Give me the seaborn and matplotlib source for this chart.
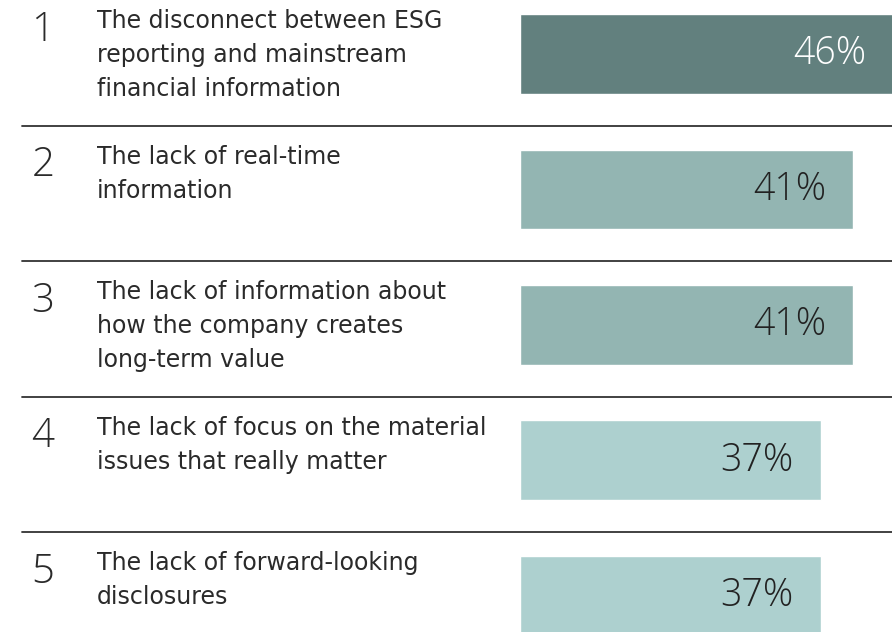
import numpy as np
import pandas as pd
import matplotlib.pyplot as plt
import matplotlib.transforms as mtransforms
import seaborn as sns

ranks = ["1", "2", "3", "4", "5"]
labels = [
    "The disconnect between ESG\nreporting and mainstream\nfinancial information",
    "The lack of real-time\ninformation",
    "The lack of information about\nhow the company creates\nlong-term value",
    "The lack of focus on the material\nissues that really matter",
    "The lack of forward-looking\ndisclosures",
]
values = [46, 41, 41, 37, 37]
bar_colors = ["#62807e", "#93b5b2", "#93b5b2", "#add0cf", "#add0cf"]
value_colors = ["white", "#222222", "#222222", "#222222", "#222222"]

df = pd.DataFrame({"rank": ranks, "label": labels, "value": values})

sns.set_theme(style="white")
plt.rcParams["font.family"] = ["Open Sans", "DejaVu Sans"]

fig = plt.figure(figsize=(8.92, 6.32), dpi=100)
# bars occupy the right part of the figure, starting at x=520px
ax = fig.add_axes([520 / 892, 0, 372 / 892, 1])

sns.barplot(data=df, x="value", y="rank", hue="rank", palette=bar_colors,
            orient="h", width=0.59, legend=False, ax=ax, saturation=1)

ax.set_xlim(0, 45.76)
ax.set_ylim(4.266, -0.3985)
ax.axis("off")

# value labels, right-aligned inside the bar end
for cont, col in zip(ax.containers, value_colors):
    for p, v in zip(cont.patches, cont.datavalues):
        ax.annotate(f"{int(v)}%", (p.get_x() + p.get_width(), p.get_y() + p.get_height() / 2),
                    xytext=(-19.5, 0), textcoords="offset points",
                    ha="right", va="center", fontsize=27, color=col,
                    fontweight="light", annotation_clip=False)

# left side text: figure x, data y (y axis is inverted)
trans = mtransforms.blended_transform_factory(fig.transFigure, ax.transData)
for i, (r, lab) in enumerate(zip(ranks, labels)):
    top = i - 0.295
    fig.text(43 / 892, top - 0.03, r, transform=trans, ha="center", va="top",
             fontsize=29, color="#2a2a2a", fontweight="light")
    fig.text(97 / 892, top - 0.035, lab, transform=trans, ha="left", va="top",
             fontsize=17, color="#2a2a2a", linespacing=1.53,
             family=["DejaVu Sans"])

# separator lines between rows
for i in range(4):
    fig.add_artist(plt.Line2D([22 / 892, 1], [i + 0.53, i + 0.53],
                              color="#333333", lw=1.3, transform=trans))

fig.savefig("out.png", dpi=100)
